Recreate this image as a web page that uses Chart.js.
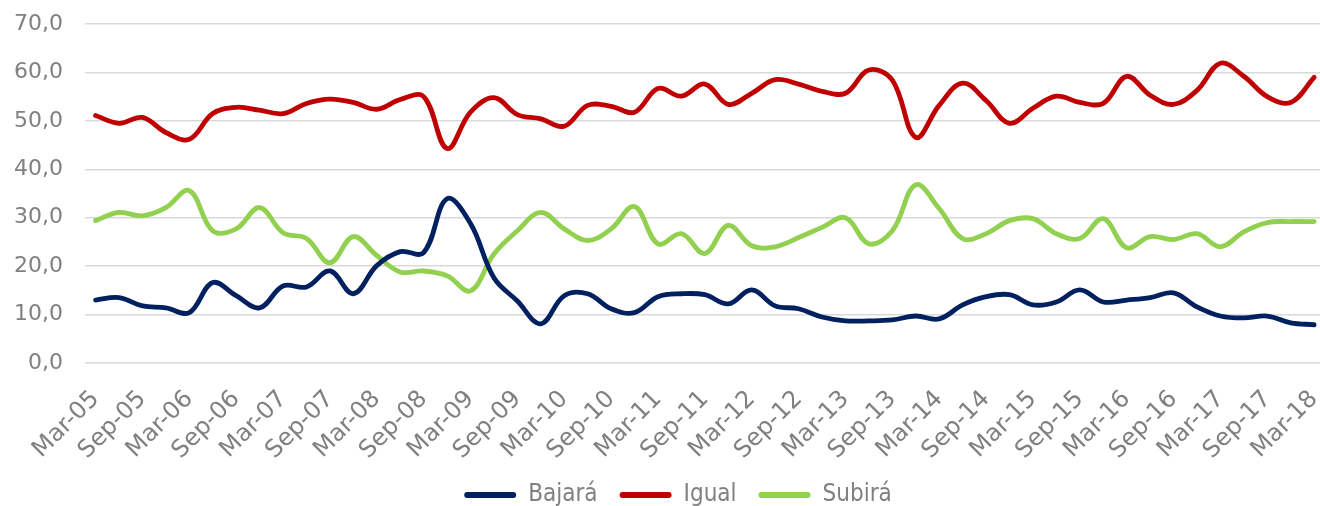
<!DOCTYPE html>
<html lang="es">
<head>
<meta charset="UTF-8">
<title>Expectativas</title>
<script src="https://cdn.jsdelivr.net/npm/chart.js"></script>
<style>
  html, body { margin: 0; padding: 0; background: #fff; }
  #wrap { width: 1320px; height: 506px; }
</style>
</head>
<body>
<div id="wrap"><canvas id="chart"></canvas></div>
<script>
// trimestres
const periods = [
  'Mar-05','Jun-05','Sep-05','Dic-05','Mar-06','Jun-06','Sep-06','Dic-06',
  'Mar-07','Jun-07','Sep-07','Dic-07','Mar-08','Jun-08','Sep-08','Dic-08',
  'Mar-09','Jun-09','Sep-09','Dic-09','Mar-10','Jun-10','Sep-10','Dic-10',
  'Mar-11','Jun-11','Sep-11','Dic-11','Mar-12','Jun-12','Sep-12','Dic-12',
  'Mar-13','Jun-13','Sep-13','Dic-13','Mar-14','Jun-14','Sep-14','Dic-14',
  'Mar-15','Jun-15','Sep-15','Dic-15','Mar-16','Jun-16','Sep-16','Dic-16',
  'Mar-17','Jun-17','Sep-17','Dic-17','Mar-18'
];

const bajara = [13.0,13.5,11.8,11.4,10.4,16.6,13.9,11.4,15.9,15.7,
                19.0,14.3,20.1,23.0,22.8,33.9,28.8,17.6,12.8,8.1,
                13.9,14.3,11.2,10.4,13.7,14.3,14.1,12.2,15.1,11.8,
                11.2,9.5,8.7,8.7,8.9,9.7,9.1,12.0,13.7,14.1,
                12.0,12.6,15.1,12.6,13.0,13.5,14.5,11.6,9.7,9.3,
                9.7,8.3,7.9];

const igual = [51.1,49.5,50.7,47.6,46.2,51.5,52.8,52.2,51.5,53.6,
               54.5,53.8,52.4,54.4,55.0,44.3,51.8,54.8,51.3,50.4,
               48.9,53.2,53.0,51.8,56.7,55.1,57.6,53.4,55.7,58.5,
               57.6,56.1,55.7,60.5,58.4,46.6,53.2,57.8,54.2,49.5,
               52.6,55.1,53.8,53.6,59.2,55.3,53.4,56.3,61.9,59.2,
               55.0,53.8,59.0];

const subira = [29.4,31.1,30.4,32.1,35.6,27.3,27.7,32.1,26.9,25.7,
                20.7,26.1,22.2,18.8,19.0,18.0,14.9,22.5,27.3,31.1,
                27.7,25.3,27.7,32.3,24.6,26.7,22.6,28.4,24.2,24.0,
                25.9,28.0,30.0,24.6,27.3,36.8,31.9,25.7,26.7,29.4,
                29.8,26.7,25.7,29.8,23.8,26.1,25.5,26.7,24.0,27.1,
                29.0,29.2,29.2];

const yTicks = [0, 10, 20, 30, 40, 50, 60, 70];

const toPts = arr => arr.map((v, i) => ({ x: i, y: v }));

Chart.defaults.font.family = 'DejaVu Sans';
Chart.defaults.color = '#808080';

function serie(label, data, color) {
  return {
    label: label,
    data: toPts(data),
    borderColor: color,
    backgroundColor: color,
    borderWidth: 4.8,
    borderCapStyle: 'round',
    borderJoinStyle: 'round',
    pointRadius: 0,
    tension: 0.38
  };
}

// the legend in the original sits a bit right of the centre
const shiftLegend = {
  id: 'shiftLegend',
  afterLayout(chart) {
    chart.legend.left += 18;
    chart.legend.right += 18;
  }
};

new Chart(document.getElementById('chart'), {
  type: 'line',
  data: {
    datasets: [
      serie('Bajará', bajara, '#002060'),
      serie('Igual', igual, '#C00000'),
      serie('Subirá', subira, '#92D050')
    ]
  },
  plugins: [shiftLegend],
  options: {
    responsive: true,
    maintainAspectRatio: false,
    animation: false,
    layout: { padding: { top: 24, left: 0, right: 0, bottom: -11 } },
    plugins: {
      tooltip: { enabled: false },
      legend: {
        position: 'bottom',
        labels: {
          font: { family: 'DejaVu Sans Condensed', size: 24 },
          color: '#808080',
          boxWidth: 52,
          boxHeight: 6,
          padding: 22,
          useBorderRadius: true,
          borderRadius: 3,
          generateLabels: chart =>
            Chart.defaults.plugins.legend.labels.generateLabels(chart)
              .map(l => ({ ...l, lineWidth: 0, fillStyle: l.strokeStyle }))
        }
      }
    },
    scales: {
      x: {
        type: 'linear',
        min: -0.45,
        max: 52.25,
        grid: { display: false },
        border: { display: false },
        afterBuildTicks: s => { s.ticks = periods.map((_, i) => ({ value: i })); },
        afterFit: s => {
          s.height = 98;
          s.paddingLeft = 0;
          s.paddingRight = 0;
        },
        ticks: {
          autoSkip: false,
          minRotation: 45,
          maxRotation: 45,
          padding: 14,
          font: { size: 24 },
          callback: v => (v % 2 === 0 ? periods[v] : '')
        }
      },
      y: {
        min: 0,
        max: 70,
        afterBuildTicks: s => { s.ticks = yTicks.map(v => ({ value: v })); },
        afterFit: s => {
          s.width = 85;
          s.paddingTop = 0;
          s.paddingBottom = 0;
        },
        grid: { color: '#d9d9d9', lineWidth: 1.5, drawTicks: false },
        border: { display: false },
        ticks: {
          padding: 22,
          font: { size: 22 },
          callback: v => v.toFixed(1).replace('.', ',')
        }
      }
    }
  }
});
</script>
</body>
</html>
